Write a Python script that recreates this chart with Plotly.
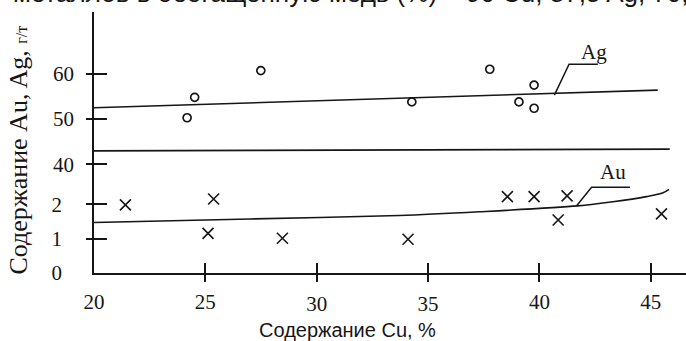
import plotly.graph_objects as go

# Ag content (g/t) of the samples against their Cu content (%)
ag_cu = [24.18, 24.52, 27.49, 34.27, 37.77, 39.08, 39.76, 39.76]
ag_val = [50.3, 54.8, 60.7, 53.8, 61.0, 53.8, 57.5, 52.4]

# Au content (g/t) of the samples against their Cu content (%)
au_cu = [21.41, 25.37, 25.12, 28.46, 34.10, 38.56, 39.76, 41.24, 40.84, 45.48]
au_val = [1.98, 2.15, 1.15, 1.01, 0.98, 2.22, 2.22, 2.24, 1.54, 1.72]

# trend lines
ag_trend_cu = [20.0, 45.31]
ag_trend_val = [52.5, 56.4]
au_trend_cu = [20.0, 27.0, 33.7, 37.3, 41.7, 43.3, 44.8, 45.55, 45.82]
au_trend_val = [1.47, 1.57, 1.67, 1.78, 1.95, 2.07, 2.22, 2.33, 2.43]

# scale-break line between the Au part and the Ag part
break_cu = [20.0, 45.85]
break_au = [3.55, 3.60]

# leader lines to the curve names
ag_leader_cu = [40.67, 41.33, 42.62]
ag_leader_val = [55.3, 62.1, 62.1]
au_leader_cu = [41.66, 42.34, 44.06]
au_leader_val = [1.95, 2.49, 2.49]

# curve names and where they sit
curve_names = ["Ag", "Au"]
curve_name_cu = [42.45, 43.29]
curve_name_val = [64.9, 2.95]

# ticks
x_ticks_upper = [20, 25, 40, 45]
x_ticks_lower = [30, 35]
x_tick_marks = [25, 30, 35, 40, 45]
au_ticks = [0, 1, 2]
au_tick_marks = [1, 2]
ag_ticks = [40, 50, 60]

X_RANGE = [20, 46.58]
AU_RANGE = [0, 7.587]
AG_RANGE = [16.03, 73.64]

INK = "#161616"
SERIF = "Liberation Serif"
SANS = "Liberation Sans"

fig = go.Figure()

# Ag samples and trend
fig.add_trace(go.Scatter(x=ag_trend_cu, y=ag_trend_val, mode="lines", xaxis="x", yaxis="y2",
                         line=dict(color=INK, width=1.6)))
fig.add_trace(go.Scatter(x=ag_leader_cu, y=ag_leader_val, mode="lines", xaxis="x", yaxis="y2",
                         line=dict(color=INK, width=1.5)))
fig.add_trace(go.Scatter(x=ag_cu, y=ag_val, mode="markers", xaxis="x", yaxis="y2",
                         marker=dict(symbol="circle-open", size=8, color=INK, line=dict(width=1.7))))

# Au samples and trend
fig.add_trace(go.Scatter(x=break_cu, y=break_au, mode="lines", xaxis="x", yaxis="y",
                         line=dict(color=INK, width=1.6)))
fig.add_trace(go.Scatter(x=au_trend_cu, y=au_trend_val, mode="lines", xaxis="x", yaxis="y",
                         line=dict(color=INK, width=1.6, shape="spline", smoothing=0.8)))
fig.add_trace(go.Scatter(x=au_leader_cu, y=au_leader_val, mode="lines", xaxis="x", yaxis="y",
                         line=dict(color=INK, width=1.5)))
fig.add_trace(go.Scatter(x=au_cu, y=au_val, mode="markers", xaxis="x", yaxis="y",
                         marker=dict(symbol="x-thin-open", size=11, color=INK, line=dict(width=1.6))))

# transparent copies that bind the helper axes (tick marks, lower tick labels)
helpers = [("x2", "y", au_trend_cu, au_trend_val), ("x3", "y", au_trend_cu, au_trend_val),
           ("x4", "y", au_trend_cu, au_trend_val),
           ("x", "y3", au_trend_cu, au_trend_val), ("x", "y5", au_trend_cu, au_trend_val),
           ("x", "y4", ag_trend_cu, ag_trend_val), ("x", "y6", ag_trend_cu, ag_trend_val)]
for xa, ya, hx, hy in helpers:
    fig.add_trace(go.Scatter(x=hx, y=hy, xaxis=xa, yaxis=ya, mode="lines", opacity=0,
                             line=dict(width=0.1, color="white"), hoverinfo="skip"))

common = dict(showgrid=False, zeroline=False, fixedrange=True)
label_font = dict(family=SERIF, size=21, color=INK)
mark_style = dict(showline=False, tickwidth=1.5, tickcolor=INK, showticklabels=False, **common)

fig.update_layout(
    width=686, height=341,
    margin=dict(l=94, r=0, t=12, b=68, pad=0),
    paper_bgcolor="white", plot_bgcolor="white",
    font=dict(family=SERIF, color=INK),
    showlegend=False,
    # x tick labels (two rows) and axis line
    xaxis=dict(range=X_RANGE, showline=True, linecolor=INK, linewidth=1.6, ticks="",
               tickmode="array", tickvals=x_ticks_upper, ticktext=[str(v) for v in x_ticks_upper],
               tickfont=label_font, ticklabelstandoff=9, anchor="y", **common),
    xaxis3=dict(range=X_RANGE, overlaying="x", anchor="y", side="bottom", showline=False, ticks="",
                tickmode="array", tickvals=x_ticks_lower, ticktext=[str(v) for v in x_ticks_lower],
                tickfont=label_font, ticklabelstandoff=16, **common),
    # x tick marks crossing the axis line
    xaxis2=dict(range=X_RANGE, overlaying="x", anchor="y", side="bottom", ticks="outside",
                ticklen=8, tickmode="array", tickvals=x_tick_marks, **mark_style),
    xaxis4=dict(range=X_RANGE, overlaying="x", anchor="y", side="bottom", ticks="inside",
                ticklen=10, tickmode="array", tickvals=x_tick_marks, **mark_style),
    # y tick labels: Au part and Ag part
    yaxis=dict(range=AU_RANGE, showline=True, linecolor=INK, linewidth=1.6, ticks="",
               tickmode="array", tickvals=au_ticks, ticktext=[str(v) for v in au_ticks],
               tickfont=label_font, ticklabelstandoff=26, anchor="x", **common),
    yaxis2=dict(range=AG_RANGE, overlaying="y", anchor="x", side="left", showline=False, ticks="",
                tickmode="array", tickvals=ag_ticks, ticktext=[str(v) for v in ag_ticks],
                tickfont=label_font, ticklabelstandoff=19, **common),
    # y tick marks crossing the axis line
    yaxis3=dict(range=AU_RANGE, overlaying="y", anchor="x", side="left", ticks="outside",
                ticklen=7, tickmode="array", tickvals=au_tick_marks, **mark_style),
    yaxis5=dict(range=AU_RANGE, overlaying="y", anchor="x", side="left", ticks="inside",
                ticklen=13, tickmode="array", tickvals=au_tick_marks, **mark_style),
    yaxis4=dict(range=AG_RANGE, overlaying="y", anchor="x", side="left", ticks="outside",
                ticklen=7, tickmode="array", tickvals=ag_ticks, **mark_style),
    yaxis6=dict(range=AG_RANGE, overlaying="y", anchor="x", side="left", ticks="inside",
                ticklen=13, tickmode="array", tickvals=ag_ticks, **mark_style),
)

# curve names
fig.add_annotation(x=curve_name_cu[0], y=curve_name_val[0], xref="x", yref="y2",
                   text=curve_names[0], showarrow=False, xanchor="center", yanchor="middle",
                   font=dict(family=SERIF, size=21, color=INK))
fig.add_annotation(x=curve_name_cu[1], y=curve_name_val[1], xref="x", yref="y",
                   text=curve_names[1], showarrow=False, xanchor="center", yanchor="middle",
                   font=dict(family=SERIF, size=21, color=INK))

# axis titles
fig.add_annotation(x=-0.127, y=0.472, xref="paper", yref="paper", textangle=-90,
                   text="Содержание Au, Ag, <span style='font-size:16px'>г/т</span>",
                   showarrow=False, xanchor="center", yanchor="middle",
                   font=dict(family=SERIF, size=26, color=INK))
fig.add_annotation(x=0.429, y=-0.220, xref="paper", yref="paper",
                   text="Содержание Cu, %", showarrow=False, xanchor="center", yanchor="middle",
                   font=dict(family=SANS, size=20, color=INK))

# caption line running above the chart
fig.add_annotation(x=-0.140, y=1.0075, xref="paper", yref="paper",
                   text="металлов в обогащенную медь (%) – 90 Cu, 87,5 Ag, 70,5 Au",
                   showarrow=False, xanchor="left", yanchor="bottom",
                   font=dict(family=SANS, size=26, color=INK))

fig.write_html("out.html")
